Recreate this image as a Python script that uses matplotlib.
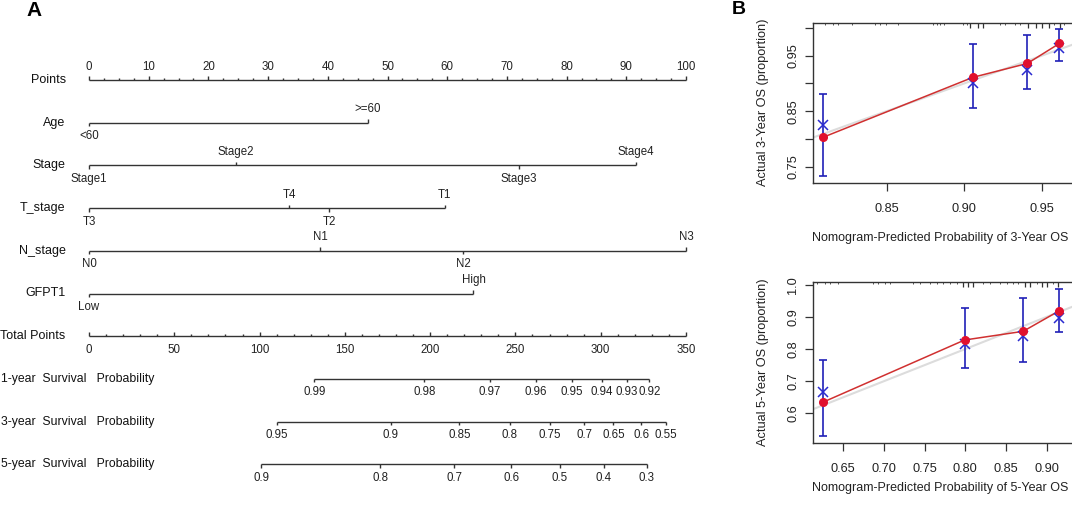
import numpy as np
import matplotlib
matplotlib.use("Agg")
import matplotlib.pyplot as plt
import matplotlib.transforms as mtransforms

plt.rcParams['font.family'] = ['Liberation Sans', 'DejaVu Sans']

W, H = 1072, 508

# ---------------- Nomogram data (points scale 0-100) ----------------
points_major = list(range(0, 101, 10))
points_minor_step = 2.5

age_labels = ['<60', '>=60']
age_points = [0, 46.7]
stage_labels = ['Stage1', 'Stage2', 'Stage3', 'Stage4']
stage_points = [0, 24.6, 72.0, 91.6]
t_labels = ['T3', 'T4', 'T2', 'T1']
t_points = [0, 33.5, 40.2, 59.6]
n_labels = ['N0', 'N1', 'N2', 'N3']
n_points = [0, 38.7, 62.7, 100]
gfpt1_labels = ['Low', 'High']
gfpt1_points = [0, 64.4]

total_major = list(range(0, 351, 50))
total_minor_step = 10
total_max = 350

surv1_labels = ['0.99', '0.98', '0.97', '0.96', '0.95', '0.94', '0.93', '0.92']
surv1_total = [132.1, 196.6, 235.1, 262.1, 283.3, 300.9, 315.2, 328.5]
surv3_labels = ['0.95', '0.9', '0.85', '0.8', '0.75', '0.7', '0.65', '0.6', '0.55']
surv3_total = [110.2, 176.9, 217.1, 246.8, 270.3, 290.4, 307.4, 323.8, 338.3]
surv5_labels = ['0.9', '0.8', '0.7', '0.6', '0.5', '0.4', '0.3']
surv5_total = [101.0, 170.8, 214.0, 247.6, 276.1, 301.9, 327.1]

row_names = ['Points', 'Age', 'Stage', 'T_stage', 'N_stage', 'GFPT1', 'Total Points',
             '1-year  Survival   Probability', '3-year  Survival   Probability',
             '5-year  Survival   Probability']

# ---------------- Calibration data ----------------
cal3_pred = [0.809, 0.9056, 0.9407, 0.9614]
cal3_obs = [0.803, 0.911, 0.936, 0.972]
cal3_corr = [0.825, 0.900, 0.925, 0.963]
cal3_lo = [0.733, 0.855, 0.890, 0.941]
cal3_hi = [0.8815, 0.9716, 0.988, 0.998]
rug3_long = [0.9037, 0.9087, 0.9123, 0.9414, 0.9461, 0.9504, 0.9545, 0.9618]
rug3_short = [0.810, 0.8155, 0.8188, 0.8274, 0.8425, 0.8457, 0.8495, 0.8575, 0.880, 0.8825,
              0.8844, 0.887, 0.899, 0.9015, 0.923, 0.926, 0.933, 0.936, 0.958, 0.9645]

cal5_pred = [0.6254, 0.799, 0.871, 0.9155]
cal5_obs = [0.635, 0.828, 0.855, 0.919]
cal5_corr = [0.665, 0.815, 0.842, 0.898]
cal5_lo = [0.530, 0.740, 0.760, 0.852]
cal5_hi = [0.765, 0.928, 0.960, 0.987]
rug5_long = [0.7974, 0.8036, 0.8097, 0.8732, 0.8794, 0.8945, 0.9006, 0.9141]
rug5_short = [0.6173, 0.6275, 0.6337, 0.6439, 0.6869, 0.693, 0.7012, 0.7074, 0.736, 0.7442,
              0.7565, 0.7647, 0.7729, 0.7811, 0.7893, 0.8220, 0.8302, 0.8425, 0.8507, 0.8589,
              0.8650, 0.8876, 0.9080]

fig = plt.figure(figsize=(W / 100, H / 100), dpi=100)

# ================= Panel A: nomogram =================
row0_px, row_step_px = 80.0, 42.7
axA = fig.add_axes([89 / W, 0, 597 / W, 1])
axA.set_xlim(0, 100)
axA.set_ylim((H - row0_px) / row_step_px, -row0_px / row_step_px)
axA.axis('off')

lc = '#333333'
fs_lab = 9.0
fs_surv = 8.85
fs_tick = 8.3
px = 1.0 / row_step_px  # one pixel in row units
off = 13.5 * px


def line(row, x0, x1):
    axA.plot([x0, x1], [row, row], color=lc, lw=1.0, solid_capstyle='butt', clip_on=False)


def tick(row, x, up, length):
    y1 = row - length if up else row + length
    axA.plot([x, x], [row, y1], color=lc, lw=1.0, solid_capstyle='butt', clip_on=False)


def label(row, x, s, up):
    y = row - off if up else row + off
    axA.text(x, y, s, ha='center', va='center', fontsize=fs_tick, color='#222222', clip_on=False)


# Row labels
for i, name in enumerate(row_names):
    if i < 7:
        axA.text(-23.3 / 5.97, i, name, ha='right', va='center', fontsize=fs_lab, color='#111111')
    else:
        axA.text(-88.0 / 5.97, i, name, ha='left', va='center', fontsize=fs_surv, color='#111111')

# Points axis (row 0)
line(0, 0, 100)
for v in np.arange(0, 100.01, points_minor_step):
    if v in points_major:
        tick(0, v, True, 4 * px)
    else:
        tick(0, v, True, 2.3 * px)
for v in points_major:
    label(0, v, str(v), True)

# Categorical variables
cats = [(age_labels, age_points), (stage_labels, stage_points), (t_labels, t_points),
        (n_labels, n_points), (gfpt1_labels, gfpt1_points)]
for r, (labs, pts) in enumerate(cats, start=1):
    line(r, min(pts), max(pts))
    for k, (lab, p) in enumerate(zip(labs, pts)):
        up = (k % 2 == 1)
        tick(r, p, up, 3.5 * px)
        label(r, p, lab, up)

# Total points axis (row 6)
scale = 100.0 / total_max
line(6, 0, total_max * scale)
for v in range(0, total_max + 1, total_minor_step):
    tick(6, v * scale, True, (4 if v in total_major else 2.3) * px)
for v in total_major:
    label(6, v * scale, str(v), False)

# Survival probability axes
for r, (labs, tots) in zip([7, 8, 9], [(surv1_labels, surv1_total),
                                        (surv3_labels, surv3_total),
                                        (surv5_labels, surv5_total)]):
    xs = [t * scale for t in tots]
    line(r, min(xs), max(xs))
    for lab, x in zip(labs, xs):
        tick(r, x, False, 3.5 * px)
        label(r, x, lab, False)

fig.text(34.5 / W, 1 - 11 / H, 'A', fontsize=15, fontweight='bold', ha='center', va='center')
fig.text(739 / W, 1 - 10 / H, 'B', fontsize=14, fontweight='bold', ha='center', va='center')

# ================= Panel B: calibration plots =================
red = '#e0102e'
redline = '#d03030'
blue = '#2a2ad0'
ebar = '#2020b8'
fs_ax = 9.2


def calib(ax, pred, obs, corr, lo, hi, rug_long, rug_short):
    ax.plot([0, 1], [0, 1], color='#dcdcdc', lw=1.5, zorder=1)
    ax.plot(pred, obs, color=redline, lw=1.1, zorder=2)
    ax.errorbar(pred, corr, yerr=[np.array(corr) - np.array(lo), np.array(hi) - np.array(corr)],
                fmt='none', ecolor=ebar, elinewidth=1.2, capsize=3.2, capthick=1.2, zorder=3)
    ax.plot(pred, corr, linestyle='none', marker='x', ms=6.5, mew=1.1, color=blue, zorder=4)
    ax.plot(pred, obs, linestyle='none', marker='o', ms=5.5, color=red, mec=red, zorder=5)
    trans = mtransforms.blended_transform_factory(ax.transData, ax.transAxes)
    ax.vlines(rug_long, 1 - 5.0 / 160, 1, color='#333333', lw=0.9, transform=trans)
    ax.vlines(rug_short, 1 - 2.0 / 160, 1, color='#555555', lw=0.7, transform=trans)
    for s in ax.spines.values():
        s.set_color('#333333')
        s.set_linewidth(1.0)
    ax.tick_params(direction='out', length=6, width=0.9, color='#333333', labelsize=fs_ax,
                   labelcolor='#222222')
    ax.tick_params(axis='x', pad=8.5)
    ax.tick_params(axis='y', pad=4)


# 3-year
ax3 = fig.add_axes([813.3 / W, 1 - 182.7 / H, (1080 - 813.3) / W, 160 / H])
ax3.set_xlim(0.8026, 0.9747)
ax3.set_ylim(0.721, 1.0095)
calib(ax3, cal3_pred, cal3_obs, cal3_corr, cal3_lo, cal3_hi, rug3_long, rug3_short)
ax3.set_xticks([0.85, 0.90, 0.95])
ax3.set_xticklabels(['0.85', '0.90', '0.95'])
ax3.set_yticks([0.75, 0.80, 0.85, 0.90, 0.95, 1.00])
ax3.set_yticklabels(['0.75', '', '0.85', '', '0.95', ''], rotation=90, va='center')
ax3.set_xlabel('Nomogram-Predicted Probability of 3-Year OS', fontsize=9.0, color='#222222')
ax3.xaxis.set_label_coords((940.4 - 813.3) / 266.7, -(238.3 - 182.7) / 160)
ax3.xaxis.label.set_va('center')
ax3.set_ylabel('Actual 3-Year OS (proportion)', fontsize=9.2, color='#222222')
ax3.yaxis.set_label_coords(-(813.3 - 762.7) / 266.7, (182.7 - 102.5) / 160)
ax3.yaxis.label.set_va('center')

# 5-year
ax5 = fig.add_axes([813.3 / W, 1 - 442.7 / H, (1080 - 813.3) / W, 160.4 / H])
ax5.set_xlim(0.6131, 0.9409)
ax5.set_ylim(0.5086, 1.0075)
calib(ax5, cal5_pred, cal5_obs, cal5_corr, cal5_lo, cal5_hi, rug5_long, rug5_short)
ax5.set_xticks([0.65, 0.70, 0.75, 0.80, 0.85, 0.90])
ax5.set_xticklabels(['0.65', '0.70', '0.75', '0.80', '0.85', '0.90'])
ax5.set_yticks([0.6, 0.7, 0.8, 0.9, 1.0])
ax5.set_yticklabels(['0.6', '0.7', '0.8', '0.9', '1.0'], rotation=90, va='center')
ax5.set_xlabel('Nomogram-Predicted Probability of 5-Year OS', fontsize=9.0, color='#222222')
ax5.xaxis.set_label_coords((940.4 - 813.3) / 266.7, -(488.3 - 442.7) / 160.4)
ax5.xaxis.label.set_va('center')
ax5.set_ylabel('Actual 5-Year OS (proportion)', fontsize=9.2, color='#222222')
ax5.yaxis.set_label_coords(-(813.3 - 762.7) / 266.7, (442.7 - 362.5) / 160.4)
ax5.yaxis.label.set_va('center')

fig.savefig('out.png', dpi=100, facecolor='white')
